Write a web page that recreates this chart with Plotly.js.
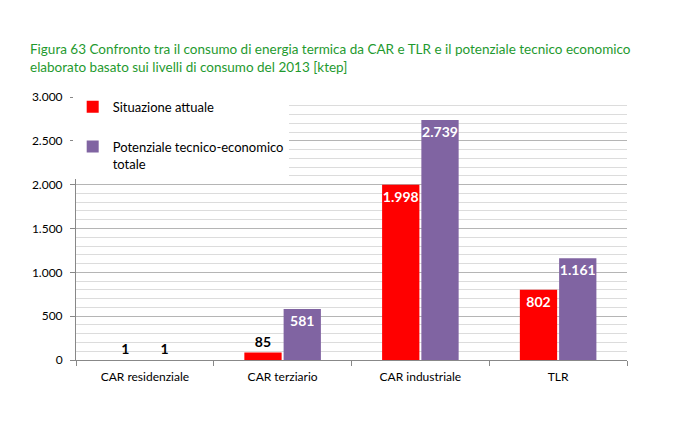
<!DOCTYPE html>
<html>
<head>
<meta charset="utf-8">
<script src="https://cdn.plot.ly/plotly-3.0.1.min.js"></script>
<style>html,body{margin:0;padding:0;background:#fff;}#chart{width:677px;height:426px;}</style>
</head>
<body>
<div id="chart"></div>
<script>
const categories = ["CAR residenziale", "CAR terziario", "CAR industriale", "TLR"];
const situazioneAttuale = [1, 85, 1998, 802];
const potenzialeTotale = [1, 581, 2739, 1161];
const seriesNames = ["Situazione attuale", "Potenziale tecnico-economico<br>totale"];
const yTicks = [0, 500, 1000, 1500, 2000, 2500, 3000];

function positions(vals) {
  return vals.map(v => v < 300 ? "outside" : "inside");
}

const textFontIn = {family: "Lato, Calibri, sans-serif", size: 14, color: "#ffffff", weight: "bold"};
const textFontOut = {family: "Lato, Calibri, sans-serif", size: 14, color: "#000000", weight: "bold"};

const traces = [
  {
    type: "bar", name: seriesNames[0], x: categories, y: situazioneAttuale,
    marker: {color: "#ff0000"},
    texttemplate: "%{y:,d}", textposition: positions(situazioneAttuale), textangle: 0,
    insidetextfont: textFontIn, outsidetextfont: textFontOut,
    constraintext: "none", cliponaxis: false, legendgroup: "a", hoverinfo: "none"
  },
  {
    type: "bar", name: seriesNames[1], x: categories, y: potenzialeTotale,
    marker: {color: "#8064a2"},
    texttemplate: "%{y:,d}", textposition: positions(potenzialeTotale), textangle: 0,
    insidetextfont: textFontIn, outsidetextfont: textFontOut,
    constraintext: "none", cliponaxis: false, legendgroup: "b", hoverinfo: "none"
  }
];

const layout = {
  width: 677, height: 426,
  margin: {l: 76, r: 50, t: 97, b: 66},
  paper_bgcolor: "#ffffff", plot_bgcolor: "#ffffff",
  separators: ",.",
  font: {family: "Lato, Calibri, sans-serif", size: 12, color: "#000000"},
  title: {
    text: "Figura 63 Confronto tra il consumo di energia termica da CAR e TLR e il potenziale tecnico economico<br>elaborato basato sui livelli di consumo del 2013 [ktep]",
    font: {family: "Lato, Calibri, sans-serif", size: 13.5, color: "#1f9a2f"},
    x: 30 / 677, xanchor: "left", xref: "container",
    y: 1 - 54 / 426, yanchor: "top", yref: "container"
  },
  barmode: "group", bargap: 0.43, bargroupgap: 0.05,
  showlegend: true,
  legend: {
    x: -0.006, y: 1.02, xanchor: "left", yanchor: "top",
    bgcolor: "#ffffff", font: {size: 13, color: "#000000"},
    traceorder: "grouped", tracegroupgap: 20, valign: "top"
  },
  xaxis: {
    type: "category", showline: true, linecolor: "#888888", linewidth: 1,
    ticks: "outside", tickson: "boundaries", ticklen: 5, tickcolor: "#888888",
    ticklabelstandoff: 6,
    showgrid: false, tickfont: {size: 12, color: "#000000"}, fixedrange: true
  },
  yaxis: {
    range: [0, 3000], tickvals: yTicks, tickformat: ",d",
    showline: true, linecolor: "#888888", linewidth: 1,
    ticks: "outside", ticklen: 5, tickcolor: "#888888",
    ticklabelstandoff: 5,
    showgrid: true, gridcolor: "#b5b5b5", gridwidth: 1, zeroline: false,
    minor: {dtick: 100, showgrid: true, gridcolor: "#dcdcdc", gridwidth: 1, ticks: ""},
    tickfont: {size: 12, color: "#000000"}, fixedrange: true
  }
};

Plotly.newPlot("chart", traces, layout, {displayModeBar: false, staticPlot: true});
</script>
</body>
</html>
